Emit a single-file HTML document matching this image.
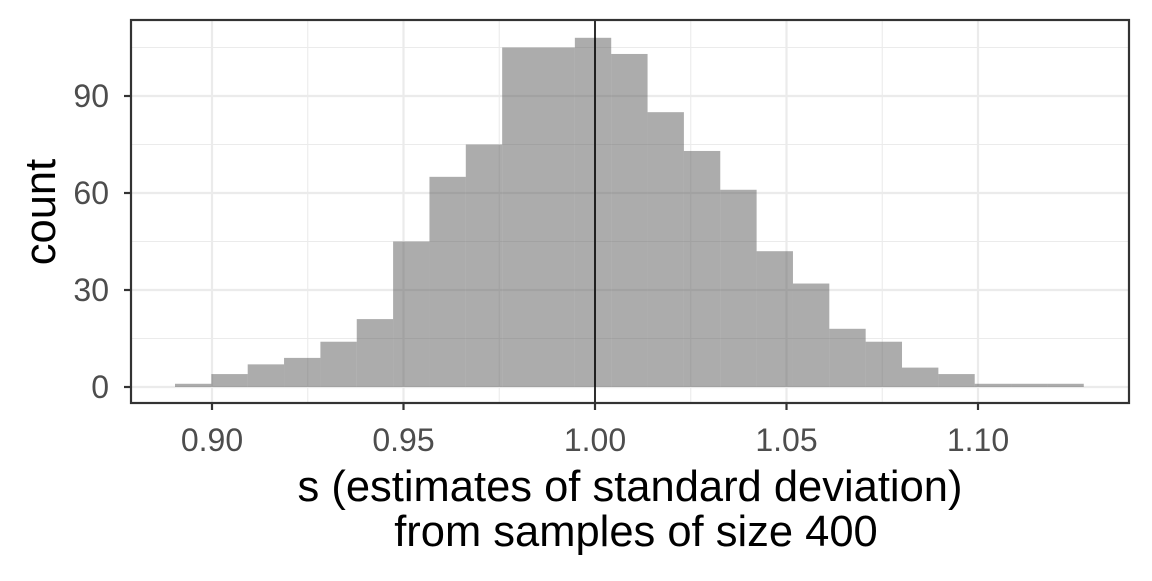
<!DOCTYPE html>
<html><head><meta charset="utf-8"><style>
body{margin:0;background:#fff;}
svg text{font-family:"Liberation Sans",Arial,sans-serif;}
</style></head><body>
<svg width="1152" height="576" viewBox="0 0 1152 576">
<g id="grid"></g><g id="bars"></g><g id="over"></g>
</svg>
<script>
const counts=[1,4,7,9,14,21,45,65,75,105,105,108,103,85,73,61,42,32,18,14,6,4,1,1,1];
const binStart=0.89034;
const binWidth=0.009491;
const xTicks=[0.90,0.95,1.00,1.05,1.10];
const xTickLabels=["0.90","0.95","1.00","1.05","1.10"];
const yTicks=[0,30,60,90];
const refLine=1.00;
const L=131,R=1129,T=20,B=403;
const x=v=>212+(v-0.9)*3830;
const y=v=>387-v*(291/90);
const NS="http://www.w3.org/2000/svg";
function mk(tag,attrs,parent){const e=document.createElementNS(NS,tag);for(const k in attrs)e.setAttribute(k,attrs[k]);document.getElementById(parent).appendChild(e);return e;}
for(let i=0;i<xTicks.length-1;i++){const m=(xTicks[i]+xTicks[i+1])/2;
 const g=mk('line',{x1:x(m),x2:x(m),y1:T,y2:B,stroke:'#ebebeb','stroke-width':1.1},'grid');
 }
for(let i=0;i<yTicks.length;i++){const m=yTicks[i]+15;
 const g=mk('line',{x1:L,x2:R,y1:y(m),y2:y(m),stroke:'#ebebeb','stroke-width':1.1},'grid');
 }
xTicks.forEach((t,i)=>{
 const g=mk('line',{x1:x(t),x2:x(t),y1:T,y2:B,stroke:'#ebebeb','stroke-width':2.2},'grid');
 
 const tk=mk('line',{x1:x(t),x2:x(t),y1:B,y2:B+7,stroke:'#333','stroke-width':2.2},'over');
 
 const tx=mk('text',{x:x(t),y:B+48,'text-anchor':'middle','font-size':32,fill:'#4d4d4d'},'over');
 tx.textContent=xTickLabels[i];
 
});
yTicks.forEach(t=>{
 const g=mk('line',{x1:L,x2:R,y1:y(t),y2:y(t),stroke:'#ebebeb','stroke-width':2.2},'grid');
 
 const tk=mk('line',{x1:L-7,x2:L,y1:y(t),y2:y(t),stroke:'#333','stroke-width':2.2},'over');
 
 const tx=mk('text',{x:L-22,y:y(t)+11,'text-anchor':'end','font-size':32,fill:'#4d4d4d'},'over');
 tx.textContent=String(t);
 
});
counts.forEach((c,i)=>{
 const x0=x(binStart+i*binWidth),x1=x(binStart+(i+1)*binWidth);
 const r=mk('rect',{x:x0,y:y(c),width:x1-x0,height:y(0)-y(c),fill:'#595959','fill-opacity':0.5},'bars');
 
});
const vl=mk('line',{x1:x(refLine),x2:x(refLine),y1:T,y2:B,stroke:'#000','stroke-width':1.6},'over');

const pb=mk('rect',{x:L,y:T,width:R-L,height:B-T,fill:'none',stroke:'#333','stroke-width':2.2},'over');

const t1=mk('text',{x:630,y:501,'text-anchor':'middle','font-size':43.5,fill:'#000'},'over');
t1.textContent='s (estimates of standard deviation)';

const t2=mk('text',{x:636,y:546,'text-anchor':'middle','font-size':43.5,fill:'#000'},'over');
t2.textContent='from samples of size 400';

const yt=mk('text',{x:55,y:212,'text-anchor':'middle','font-size':43.5,fill:'#000',transform:'rotate(-90 55 212)'},'over');
yt.textContent='count';

</script>
</body></html>
